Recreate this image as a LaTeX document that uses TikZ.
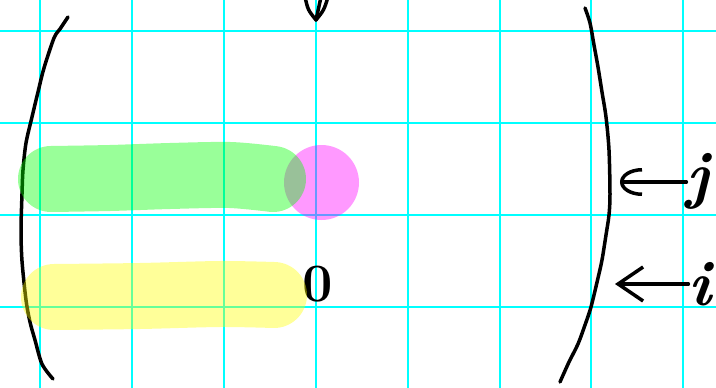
\documentclass[tikz,border=0pt]{standalone}
\usepackage{fontspec}
\usepackage{tikz}
\usetikzlibrary{arrows.meta}
\definecolor{gridcyan}{RGB}{0,255,255}
\definecolor{markgreen}{RGB}{0,255,0}
\definecolor{markpink}{RGB}{255,0,255}
\definecolor{markyellow}{RGB}{255,255,0}
\tikzset{
  gridline/.style={gridcyan, line width=2pt},
  ink/.style={black, line width=3.5pt, line cap=round, line join=round},
  marker/.style={line width=66pt, line cap=round, line join=round, opacity=0.4},
  idxlabel/.style={inner sep=0pt, anchor=base, font=\fontsize{64}{64}\selectfont\bfseries\itshape},
  zerolabel/.style={inner sep=0pt, anchor=base, font=\fontsize{54}{54}\selectfont\bfseries},
}

\begin{document}
\begin{tikzpicture}[x=1pt,y=-1pt]

      % Page
      \fill[white] (0,0) rectangle (716,388);
      \useasboundingbox (0,0) rectangle (716,388);

      % Grid
      \draw[gridline] (40,0) -- (40,388);
      \draw[gridline] (132,0) -- (132,388);
      \draw[gridline] (224,0) -- (224,388);
      \draw[gridline] (316,0) -- (316,388);
      \draw[gridline] (408,0) -- (408,388);
      \draw[gridline] (500,0) -- (500,388);
      \draw[gridline] (591,0) -- (591,388);
      \draw[gridline] (683,0) -- (683,388);
      \draw[gridline] (0,31) -- (716,31);
      \draw[gridline] (0,123) -- (716,123);
      \draw[gridline] (0,215) -- (716,215);
      \draw[gridline] (0,307) -- (716,307);

      % Brackets
      \draw[ink] plot[smooth] coordinates {(68,17) (60,29) (54,38) (44,68) (38,92) (32,117) (26,143)
            (23,170) (22,194) (21,230) (22,261) (26,300) (30,322) (35,340) (42,364) (53,379)};
      \draw[ink] plot[smooth] coordinates {(585,8) (590,23) (594,45) (598,67) (602,92) (606,117)
            (609,150) (610,194) (609,215) (606,235) (602,260) (598,278) (591,307) (585,325)
            (578,344) (569,362) (560,382)};

      % Tip at the top
      \draw[ink] (305,-3) .. controls (308,10) .. (316,20) .. controls (324,10) .. (328,-3);
      \draw[ink] (321,-3) .. controls (318,8) .. (316,20);

      % Labels
      \node[idxlabel] (j) at (698,196) {j};
      \node[idxlabel] (i) at (700,305) {i};
      \node[zerolabel] (zero) at (318,301) {0};

      % Arrows
      \coordinate (jtip) at (620,182);
      \coordinate (itip) at (615,284);
      \draw[ink, -{Arc Barb[length=22pt, width=28pt]}] (j.west |- jtip) -- (jtip);
      \draw[ink, -{Straight Barb[length=25pt, width=34pt]}] (i.west |- itip) -- (itip);

      % Highlights
      \fill[markpink, opacity=0.4] (321.5,182.5) circle (37.5);
      \draw[marker, markgreen] plot[smooth] coordinates {(51,179) (110,178) (170,176) (230,175) (273,179)};
      \draw[marker, markyellow] plot[smooth] coordinates {(54,297) (140,296) (220,294) (274,295)};

\end{tikzpicture}
\end{document}
